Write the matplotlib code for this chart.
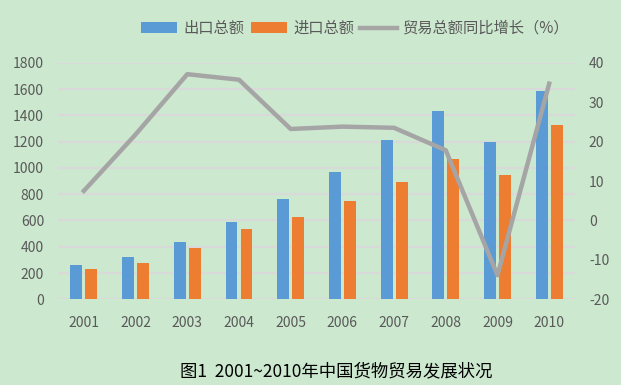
import matplotlib
matplotlib.use("Agg")
import matplotlib.pyplot as plt
import numpy as np

plt.rcParams['font.family'] = ['Noto Sans CJK SC', 'DejaVu Sans']
plt.rcParams['axes.unicode_minus'] = False

years = ["2001", "2002", "2003", "2004", "2005", "2006", "2007", "2008", "2009", "2010"]
exports = [261, 322, 436, 588, 763, 968, 1215, 1430, 1200, 1585]
imports = [230, 276, 390, 535, 626, 748, 896, 1071, 949, 1326]
growth = [7.5, 21.8, 37.1, 35.7, 23.2, 23.8, 23.5, 17.8, -13.9, 34.7]

bg = "#CCE8CF"
txt = "#595959"

fig = plt.figure(figsize=(6.21, 3.85), dpi=100, facecolor=bg)
ax = fig.add_axes([0.0934, 0.2226, 0.8326, 0.6144])
ax.set_facecolor(bg)
x = np.arange(len(years))
w = 0.23
b1 = ax.bar(x - 0.145, exports, w, color="#5B9BD5", label="出口总额", zorder=3)
b2 = ax.bar(x + 0.145, imports, w, color="#ED7D31", label="进口总额", zorder=3)
ax.set_ylim(0, 1800)
ax.set_yticks(range(0, 1801, 200))
ax.set_xlim(-0.5, 9.5)
ax.set_xticks(x)
ax.set_xticklabels(years)
ax.grid(axis="y", color="#D9D9D9", linewidth=1.5, zorder=0)
ax.tick_params(length=0, colors=txt, labelsize=10)
ax.tick_params(axis="x", pad=12)
ax.tick_params(axis="y", pad=10)
for s in ax.spines.values():
    s.set_visible(False)

ax2 = ax.twinx()
ln, = ax2.plot(x, growth, color="#A5A5A5", linewidth=3.2, label="贸易总额同比增长（%）", zorder=4)
ax2.set_ylim(-20, 40)
ax2.set_yticks(range(-20, 41, 10))
ax2.tick_params(length=0, colors=txt, labelsize=10, pad=10)
for s in ax2.spines.values():
    s.set_visible(False)

fig.legend(handles=[b1, b2, ln], loc="center", bbox_to_anchor=(0.572, 0.926), ncol=3,
           frameon=False, fontsize=11, labelcolor=txt, handlelength=2.4, handleheight=0.7,
           handletextpad=0.4, columnspacing=0.4)

fig.text(0.541, 0.035, "图1  2001~2010年中国货物贸易发展状况", ha="center", va="center",
         fontsize=12.5, color="black")

fig.savefig("out.png", dpi=100, facecolor=bg, edgecolor="#D9D9D9")
